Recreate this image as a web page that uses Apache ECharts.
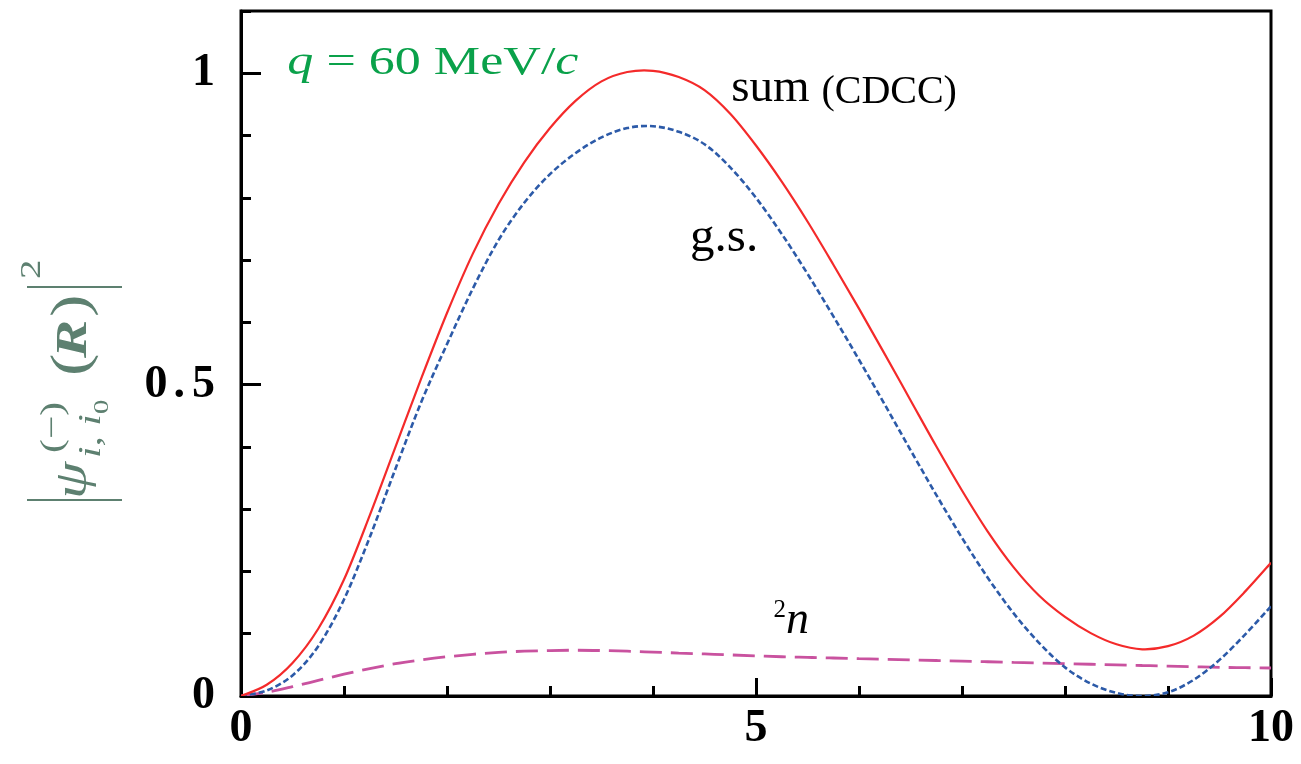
<!DOCTYPE html>
<html>
<head>
<meta charset="utf-8">
<script src="https://cdn.jsdelivr.net/npm/echarts@6/dist/echarts.min.js"></script>
<style>
html,body{margin:0;padding:0;background:#fff;}
#chart{width:1301px;height:764px;}
</style>
</head>
<body>
<div id="chart"></div>
<script>
// ---- data ----
const R = [0, 0.25, 0.5, 0.75, 1, 1.25, 1.5, 1.75, 2, 2.25, 2.5, 2.75, 3, 3.25, 3.5, 3.75, 4, 4.25, 4.5, 4.75, 5, 5.25, 5.5, 5.75, 6, 6.25, 6.5, 6.75, 7, 7.25, 7.5, 7.75, 8, 8.25, 8.5, 8.75, 9, 9.25, 9.5, 9.75, 10];
const sumCDCC = [0, 0.018, 0.053, 0.108, 0.187, 0.29, 0.40, 0.51, 0.615, 0.71, 0.79, 0.857, 0.912, 0.956, 0.987, 1.002, 1.004, 0.994, 0.973, 0.935, 0.884, 0.826, 0.762, 0.693, 0.622, 0.549, 0.475, 0.401, 0.33, 0.264, 0.207, 0.161, 0.127, 0.101, 0.083, 0.075, 0.08, 0.097, 0.127, 0.168, 0.214];
const groundState = [0, 0.009, 0.033, 0.08, 0.155, 0.255, 0.365, 0.472, 0.565, 0.654, 0.732, 0.792, 0.838, 0.872, 0.897, 0.912, 0.915, 0.906, 0.886, 0.849, 0.80, 0.742, 0.678, 0.61, 0.54, 0.468, 0.395, 0.323, 0.254, 0.19, 0.133, 0.085, 0.046, 0.02, 0.005, 0.0, 0.006, 0.026, 0.058, 0.099, 0.144];
const twoN = [0, 0.006, 0.015, 0.025, 0.035, 0.044, 0.052, 0.058, 0.063, 0.067, 0.07, 0.072, 0.073, 0.0735, 0.073, 0.072, 0.0705, 0.069, 0.0675, 0.066, 0.0645, 0.063, 0.062, 0.061, 0.06, 0.059, 0.058, 0.057, 0.056, 0.055, 0.054, 0.053, 0.052, 0.051, 0.05, 0.049, 0.048, 0.047, 0.046, 0.0455, 0.045];
const xTickLabels = ['0', '5', '10'];
const yTickLabels = ['0', '0.5', '1'];

const pairs = (ys) => R.map((x, i) => [x, ys[i]]);
const SERIF = '"Liberation Serif", "Times New Roman", serif';
const NAME_COLOR = '#5d8070';

// smooth curve through every data point, positioned with the chart's own coordinate system
function curveSeries(name, ys, lineStyle, z) {
  return {
    name: name, type: 'custom', coordinateSystem: 'cartesian2d', clip: true, z: z,
    data: pairs(ys),
    encode: { x: 0, y: 1 },
    renderItem: function (params, api) {
      if (params.dataIndex !== 0) return null;
      const pts = R.map((x, i) => api.coord([x, ys[i]]));
      let d = 'M' + pts[0][0] + ',' + pts[0][1];
      for (let i = 0; i < pts.length - 1; i++) {
        const p0 = pts[i - 1] || pts[i], p1 = pts[i], p2 = pts[i + 1], p3 = pts[i + 2] || pts[i + 1];
        const c1x = p1[0] + (p2[0] - p0[0]) / 6, c1y = p1[1] + (p2[1] - p0[1]) / 6;
        const c2x = p2[0] - (p3[0] - p1[0]) / 6, c2y = p2[1] - (p3[1] - p1[1]) / 6;
        d += ' C' + c1x + ',' + c1y + ' ' + c2x + ',' + c2y + ' ' + p2[0] + ',' + p2[1];
      }
      return {
        type: 'path', shape: { pathData: d },
        style: Object.assign({ fill: 'none' }, lineStyle)
      };
    }
  };
}

const chart = echarts.init(document.getElementById('chart'));
chart.setOption({
  animation: false,
  backgroundColor: '#fff',
  grid: { left: 241, right: 30, top: 11, bottom: 68, show: true, borderColor: '#000', borderWidth: 3, backgroundColor: 'transparent' },
  xAxis: [{
    type: 'value', min: 0, max: 10, interval: 5, position: 'bottom',
    axisLine: { show: true, onZero: false, lineStyle: { color: '#000', width: 3 } },
    axisTick: { show: true, inside: true, length: 18, lineStyle: { color: '#000', width: 3 } },
    minorTick: { show: true, splitNumber: 5, length: 10, lineStyle: { color: '#000', width: 3 } },
    splitLine: { show: false },
    axisLabel: {
      margin: 10, color: '#000', fontFamily: SERIF, fontWeight: 'bold', fontSize: 46,
      formatter: (v) => { const s = String(Math.round(v)); return xTickLabels.indexOf(s) >= 0 ? s : ''; }
    }
  }],
  yAxis: [{
    type: 'value', min: 0, max: 1.1, interval: 0.1, position: 'left',
    axisLine: { show: true, onZero: false, lineStyle: { color: '#000', width: 3 } },
    axisTick: { show: true, inside: true, length: 10, lineStyle: { color: '#000', width: 3 } },
    splitLine: { show: false },
    axisLabel: { show: false }
  }, {
    type: 'value', min: 0, max: 1.1, interval: 0.5, position: 'left',
    axisLine: { show: false },
    axisTick: { show: true, inside: true, length: 20, lineStyle: { color: '#000', width: 3 } },
    splitLine: { show: false },
    axisLabel: {
      margin: 26, showMaxLabel: false, color: '#000', fontFamily: SERIF, fontWeight: 'bold', fontSize: 46,
      formatter: (v) => {
        const s = String(Math.round(v * 10) / 10);
        if (yTickLabels.indexOf(s) < 0) return '';
        if (s.indexOf('.') > 0) { const p = s.split('.'); return '{a|' + p[0] + '}{b|.}{a|' + p[1] + '}'; }
        return s;
      },
      rich: {
        a: { fontFamily: SERIF, fontWeight: 'bold', fontSize: 46, color: '#000' },
        b: { fontFamily: SERIF, fontWeight: 'bold', fontSize: 46, color: '#000', padding: [0, 7, 0, 6] }
      }
    }
  }],
  series: [
    curveSeries('2n', twoN, { stroke: '#c9529f', lineWidth: 2.8, lineDash: [22, 9] }, 1),
    curveSeries('g.s.', groundState, { stroke: '#2c5aa8', lineWidth: 2.6, lineDash: [6, 3] }, 2),
    curveSeries('sum (CDCC)', sumCDCC, { stroke: '#f42a2a', lineWidth: 2.2 }, 3)
  ]
});

// annotations placed at data coordinates
function px(x, y) { return chart.convertToPixel({ xAxisIndex: 0, yAxisIndex: 0 }, [x, y]); }
const pQ = px(0.45, 1.016), pSum = px(4.76, 0.975), pGS = px(4.36, 0.735), pN = px(5.17, 0.12);
const nameBase = px(0, 0); // y-axis name anchored relative to the axis
const nx = nameBase[0] - 151, ny = nameBase[1] - 194;
const SX = 1.3;

chart.setOption({
  graphic: [{
    type: 'text', x: pQ[0], y: pQ[1], scaleX: 1.27,
    style: {
      text: '{i|q}{n| = 60 MeV/}{i|c}', textVerticalAlign: 'middle', fill: '#0aa14a',
      rich: {
        i: { fontFamily: SERIF, fontStyle: 'italic', fontSize: 41, fill: '#0aa14a' },
        n: { fontFamily: SERIF, fontSize: 41, fill: '#0aa14a' }
      }
    }
  }, {
    type: 'text', x: pSum[0], y: pSum[1],
    style: {
      text: '{a|sum }{b|(CDCC)}', textVerticalAlign: 'middle',
      rich: {
        a: { fontFamily: SERIF, fontSize: 47, fill: '#000', verticalAlign: 'bottom' },
        b: { fontFamily: SERIF, fontSize: 40, fill: '#000', verticalAlign: 'bottom' }
      }
    }
  }, {
    type: 'text', x: pGS[0], y: pGS[1],
    style: { text: 'g.s.', textVerticalAlign: 'middle', fontFamily: SERIF, fontSize: 49, fill: '#000' }
  }, {
    type: 'text', x: pN[0], y: pN[1],
    style: {
      text: '{s|2}{n|n}', textVerticalAlign: 'middle',
      rich: {
        s: { fontFamily: SERIF, fontSize: 25, fill: '#000', verticalAlign: 'top' },
        n: { fontFamily: SERIF, fontStyle: 'italic', fontSize: 46, fill: '#000', verticalAlign: 'bottom' }
      }
    }
  }, {
    type: 'group', x: nx, y: ny, rotation: Math.PI / 2,
    children: [
      { type: 'line', shape: { x1: 2, y1: -63, x2: 2, y2: 32 }, style: { stroke: NAME_COLOR, lineWidth: 2 } },
      { type: 'text', x: 3, y: -16, scaleX: SX, style: { text: 'ψ', fontFamily: SERIF, fontStyle: 'italic', fontSize: 46, fill: NAME_COLOR, textVerticalAlign: 'middle' } },
      { type: 'text', x: 49, y: -36, scaleX: SX, style: { text: '(−)', fontFamily: SERIF, fontSize: 32, fill: NAME_COLOR, textVerticalAlign: 'middle' } },
      { type: 'text', x: 44, y: 2, scaleX: SX, style: { text: 'i, i', fontFamily: SERIF, fontStyle: 'italic', fontSize: 32, fill: NAME_COLOR, textVerticalAlign: 'middle' } },
      { type: 'text', x: 88, y: 12, scaleX: SX, style: { text: '0', fontFamily: SERIF, fontSize: 22, fill: NAME_COLOR, textVerticalAlign: 'middle' } },
      { type: 'text', x: 126, y: -17, scaleX: SX, style: { text: '(', fontFamily: SERIF, fontSize: 52, fill: NAME_COLOR, textVerticalAlign: 'middle' } },
      { type: 'text', x: 144, y: -15, scaleX: SX, style: { text: 'R', fontFamily: SERIF, fontStyle: 'italic', fontWeight: 'bold', fontSize: 44, fill: NAME_COLOR, textVerticalAlign: 'middle' } },
      { type: 'text', x: 185, y: -17, scaleX: SX, style: { text: ')', fontFamily: SERIF, fontSize: 52, fill: NAME_COLOR, textVerticalAlign: 'middle' } },
      { type: 'line', shape: { x1: 215, y1: -63, x2: 215, y2: 32 }, style: { stroke: NAME_COLOR, lineWidth: 2 } },
      { type: 'text', x: 223, y: -58, scaleX: SX, style: { text: '2', fontFamily: SERIF, fontSize: 30, fill: NAME_COLOR, textVerticalAlign: 'middle' } }
    ]
  }]
});
</script>
</body>
</html>
